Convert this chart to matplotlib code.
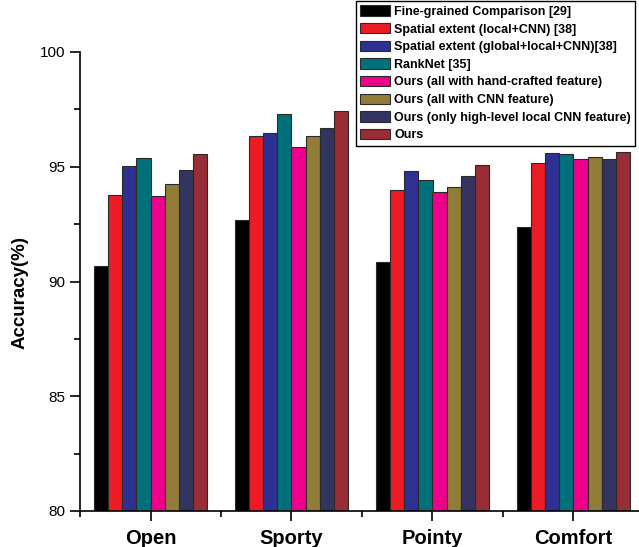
import matplotlib
matplotlib.use("Agg")
import matplotlib.pyplot as plt
import numpy as np

plt.rcParams['font.family'] = ['Liberation Sans', 'DejaVu Sans']

categories = ["Open", "Sporty", "Pointy", "Comfort"]
series_names = [
    "Fine-grained Comparison [29]",
    "Spatial extent (local+CNN) [38]",
    "Spatial extent (global+local+CNN)[38]",
    "RankNet [35]",
    "Ours (all with hand-crafted feature)",
    "Ours (all with CNN feature)",
    "Ours (only high-level local CNN feature)",
    "Ours",
]
fine_grained = [90.68, 92.68, 90.85, 92.37]
spatial_local = [93.78, 96.34, 93.99, 95.16]
spatial_global = [95.02, 96.46, 94.80, 95.60]
ranknet = [95.37, 97.28, 94.42, 95.54]
ours_hand = [93.71, 95.85, 93.89, 95.34]
ours_cnn = [94.23, 96.36, 94.13, 95.41]
ours_local = [94.84, 96.70, 94.61, 95.35]
ours = [95.56, 97.43, 95.08, 95.63]
series_values = [fine_grained, spatial_local, spatial_global, ranknet,
                 ours_hand, ours_cnn, ours_local, ours]
colors = ["#000000", "#ED1C24", "#2E3192", "#00707A",
          "#EC008C", "#917D38", "#343461", "#982D35"]
yticks = [80, 85, 90, 95, 100]

fig = plt.figure(figsize=(6.39, 5.47), dpi=100)
ax = fig.add_axes([80/639, 36/547, 564/639, 459/547])

x = np.arange(1, len(categories) + 1)
w = 0.1
n = len(series_values)
for i, (vals, name, c) in enumerate(zip(series_values, series_names, colors)):
    ax.bar(x + (i - (n - 1) / 2) * w, np.array(vals) - 80, width=w, bottom=80,
           color=c, edgecolor="#2a2a2a", linewidth=0.8, label=name, zorder=2)

ax.set_xlim(0.5, 4.5)
ax.set_ylim(80, 100)
ax.set_yticks(yticks)
ax.set_yticks([82.5, 87.5, 92.5, 97.5], minor=True)
ax.set_xticks(x)
ax.set_xticks([0.5, 1.5, 2.5, 3.5], minor=True)
ax.set_xticklabels(categories, fontsize=14.5, fontweight="bold")
ax.tick_params(axis="y", which="major", length=7, width=1.2, labelsize=11, direction="out")
ax.tick_params(axis="y", which="minor", length=4, width=1.2, direction="out")
ax.tick_params(axis="x", which="major", length=7, width=1.2, pad=6, direction="out")
ax.tick_params(axis="x", which="minor", length=4, width=1.2, direction="out")
ax.spines["top"].set_visible(False)
ax.spines["right"].set_visible(False)
ax.spines["left"].set_linewidth(1.2)
ax.spines["bottom"].set_linewidth(1.2)
ax.set_ylabel("Accuracy(%)", fontsize=13.5, fontweight="bold")
ax.yaxis.set_label_coords(-0.092, 0.475)

leg = fig.legend(loc="upper left", bbox_to_anchor=(356/639, 1 - 1/547),
                 prop={"weight": "bold", "size": 9}, frameon=True, fancybox=False,
                 edgecolor="black", framealpha=1, borderpad=0.35,
                 handlelength=2.4, handleheight=0.9, handletextpad=0.3,
                 labelspacing=0.41, borderaxespad=0)
leg.get_frame().set_linewidth(1.0)

fig.savefig("out.png", dpi=100)
